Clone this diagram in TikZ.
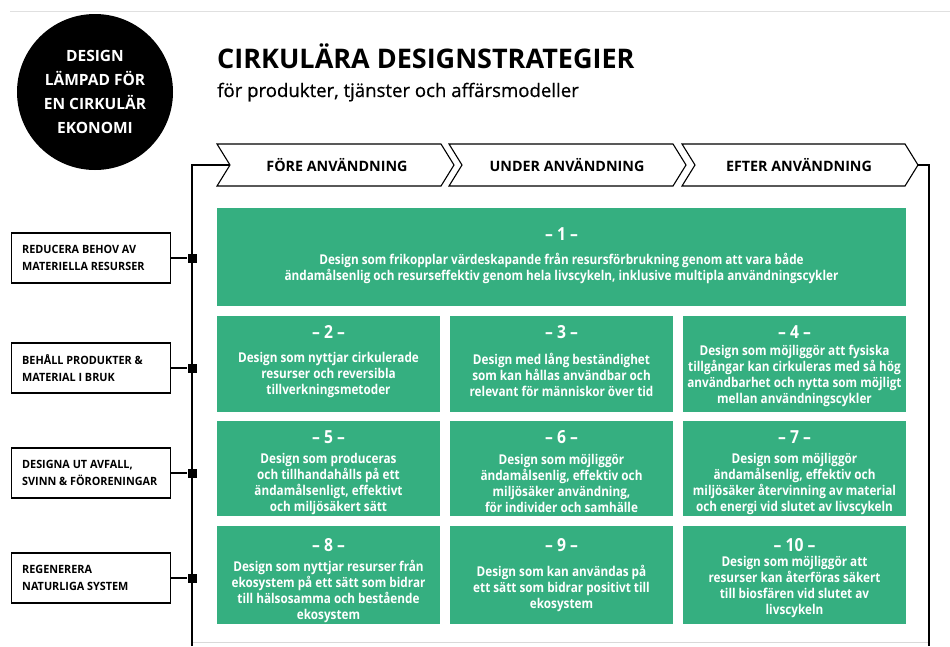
\documentclass[tikz,border=0pt]{standalone}
\usepackage{fontspec}
\setmainfont{Open Sans}
\newfontfamily\boxfont[FakeStretch=0.87]{Open Sans}
\newfontfamily\lblfont[FakeStretch=0.95]{Open Sans}
\newfontfamily\subfont[FakeBold=0.7]{Open Sans}
\definecolor{grn}{HTML}{35AF80}
\begin{document}
\begin{tikzpicture}[x=1pt,y=-1pt,
  frame/.style={line width=2.6pt,black},
  chev/.style={draw=black,line width=1.1pt,fill=white,line join=miter},
  chevtext/.style={font=\bfseries\fontsize{14.3}{16}\selectfont},
  lbl/.style={draw=black,line width=1.1pt,anchor=west,minimum width=159pt,minimum height=50pt,inner sep=0pt},
  lbltext/.style={anchor=west,inner sep=0pt,align=left,font=\lblfont\bfseries\fontsize{11.4}{16.5}\selectfont},
  sq/.style={fill=black,minimum size=9pt,inner sep=0pt},
  gbox/.style={fill=grn,inner sep=0pt},
  num/.style={text=white,font=\boxfont\bfseries\fontsize{18}{18}\selectfont},
  gtext/.style={text=white,align=center,font=\boxfont\bfseries\fontsize{13.5}{16}\selectfont}]
\useasboundingbox (0,0) rectangle (950,646);
\draw[black!12,line width=0.8pt] (10,11) -- (950,11);
\draw[black!15,line width=0.8pt] (192,642) -- (929,642);

% logo circle
\node[circle,fill=black,minimum size=156pt,inner sep=0pt,text=white,align=center,
      font=\bfseries\fontsize{15.5}{23.7}\selectfont] (logo) at (95,92)
      {DESIGN\\LÄMPAD FÖR\\EN CIRKULÄR\\EKONOMI};

% title
\node[anchor=base west,inner sep=0pt,font=\bfseries\fontsize{27}{30}\selectfont] (title) at (217,68) {CIRKULÄRA DESIGNSTRATEGIER};
\node[anchor=base west,inner sep=0pt,font=\subfont\fontsize{18.6}{22}\selectfont] (sub) at (217,97) {för produkter, tjänster och affärsmodeller};

% frame
\coordinate (n1) at (229,165);
\coordinate (t3) at (918,165);
\draw[frame] (192,646) -- (192,165) -- (n1);
\draw[frame] (t3) -- (929,165) -- (929,646);

% chevrons
\draw[chev] (217,144) -- (441,144) -- (454,165) -- (441,186) -- (217,186) -- (230,165) -- cycle;
\draw[chev] (449,144) -- (673,144) -- (686,165) -- (673,186) -- (449,186) -- (462,165) -- cycle;
\draw[chev] (682,144) -- (905,144) -- (918,165) -- (905,186) -- (682,186) -- (695,165) -- cycle;
\node[chevtext] (ch1) at (337,165) {FÖRE ANVÄNDNING};
\node[chevtext] (ch2) at (567,165) {UNDER ANVÄNDNING};
\node[chevtext] (ch3) at (799,165) {EFTER ANVÄNDNING};

% left labels
\node[lbl] (l1) at (11,258) {};
\node[lbl] (l2) at (11,368) {};
\node[lbl] (l3) at (11,473) {};
\node[lbl] (l4) at (11,578) {};
\node[lbltext] (lt1) at (22,258) {REDUCERA BEHOV AV\\MATERIELLA RESURSER};
\node[lbltext] (lt2) at (22,368) {BEHÅLL PRODUKTER \&\\MATERIAL I BRUK};
\node[lbltext] (lt3) at (22,473) {DESIGNA UT AVFALL,\\SVINN \& FÖRORENINGAR};
\node[lbltext] (lt4) at (22,578) {REGENERERA\\NATURLIGA SYSTEM};
\node[sq] (s1) at (192,258) {};
\node[sq] (s2) at (192,368) {};
\node[sq] (s3) at (192,473) {};
\node[sq] (s4) at (192,578) {};
\draw[line width=1.1pt] (l1.east) -- (s1);
\draw[line width=1.1pt] (l2.east) -- (s2);
\draw[line width=1.1pt] (l3.east) -- (s3);
\draw[line width=1.1pt] (l4.east) -- (s4);

% green boxes
\node[gbox,minimum width=689pt,minimum height=98pt] (g1) at (561.5,257) {};
\node[num] (n1t) at (561.5,234) {– 1 –};
\node[gtext] (t1) at (561.5,268) {Design som frikopplar värdeskapande från resursförbrukning genom att vara både\\ändamålsenlig och resurseffektiv genom hela livscykeln, inklusive multipla användningscykler};

% row 2
\node[gbox,minimum width=223pt,minimum height=96pt] (g2) at (328.5,364) {};
\node[gbox,minimum width=223pt,minimum height=96pt] (g3) at (561.5,364) {};
\node[gbox,minimum width=223pt,minimum height=96pt] (g4) at (794.5,364) {};
\node[num] at (328.5,332) {– 2 –};
\node[num] at (561.5,332) {– 3 –};
\node[num] at (794.5,332) {– 4 –};
\node[gtext] at (328.5,375) {Design som nyttjar cirkulerade\\resurser och reversibla\\tillverkningsmetoder};
\node[gtext] at (561.5,375) {Design med lång beständighet\\som kan hållas användbar och\\relevant för människor över tid};
\node[gtext] at (794.5,376) {Design som möjliggör att fysiska\\tillgångar kan cirkuleras med så hög\\användbarhet och nytta som möjligt\\mellan användningscykler};

% row 3
\node[gbox,minimum width=223pt,minimum height=95pt] (g5) at (328.5,468.5) {};
\node[gbox,minimum width=223pt,minimum height=95pt] (g6) at (561.5,468.5) {};
\node[gbox,minimum width=223pt,minimum height=95pt] (g7) at (794.5,468.5) {};
\node[num] at (328.5,437) {– 5 –};
\node[num] at (561.5,437) {– 6 –};
\node[num] at (794.5,437) {– 7 –};
\node[gtext] at (328.5,483.5) {Design som produceras\\och tillhandahålls på ett\\ändamålsenligt, effektivt\\och miljösäkert sätt};
\node[gtext] at (561.5,483.5) {Design som möjliggör\\ändamålsenlig, effektiv och\\miljösäker användning,\\för individer och samhälle};
\node[gtext] at (794.5,483.5) {Design som möjliggör\\ändamålsenlig, effektiv och\\miljösäker återvinning av material\\och energi vid slutet av livscykeln};

% row 4
\node[gbox,minimum width=223pt,minimum height=98pt] (g8) at (328.5,575) {};
\node[gbox,minimum width=223pt,minimum height=98pt] (g9) at (561.5,575) {};
\node[gbox,minimum width=223pt,minimum height=98pt] (g10) at (794.5,575) {};
\node[num] at (328.5,545) {– 8 –};
\node[num] at (561.5,545) {– 9 –};
\node[num] at (794.5,545) {– 10 –};
\node[gtext] at (328.5,591.5) {Design som nyttjar resurser från\\ekosystem på ett sätt som bidrar\\till hälsosamma och bestående\\ekosystem};
\node[gtext] at (561.5,588) {Design som kan användas på\\ett sätt som bidrar positivt till\\ekosystem};
\node[gtext] at (794.5,587) {Design som möjliggör att\\resurser kan återföras säkert\\till biosfären vid slutet av\\livscykeln};
\end{tikzpicture}
\end{document}
